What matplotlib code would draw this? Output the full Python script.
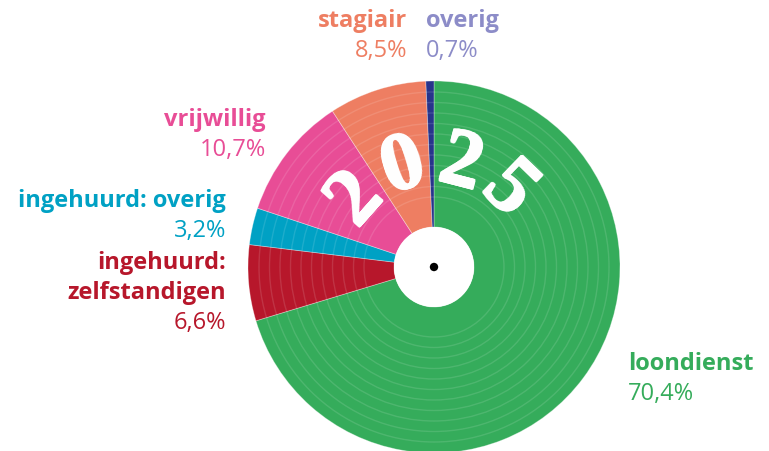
import matplotlib
matplotlib.use("Agg")
import matplotlib.pyplot as plt
from matplotlib.patches import Circle
from matplotlib.transforms import ScaledTranslation
import numpy as np

# ---- data ----
categories = ["loondienst", "ingehuurd:\nzelfstandigen", "ingehuurd: overig",
              "vrijwillig", "stagiair", "overig"]
values = [70.4, 6.6, 3.2, 10.7, 8.5, 0.7]
value_labels = ["70,4%", "6,6%", "3,2%", "10,7%", "8,5%", "0,7%"]
year_text = "2025"

# ---- styles ----
slice_colors = ["#35AC5B", "#B7172B", "#00A1C4", "#E84D96", "#EE7E62", "#27348B"]
label_colors = ["#35AC5B", "#B7172B", "#00A1C4", "#E84D96", "#EE7E62", "#8C8CC8"]

W, H = 769, 451
fig = plt.figure(figsize=(W / 100, H / 100), dpi=100)
ax = fig.add_axes([0, 0, 1, 1])

cx, cy = 434, H - 267
R = 186
r_hole = 40

ax.pie(values, colors=slice_colors, startangle=90, counterclock=False,
       radius=R, center=(cx, cy),
       wedgeprops=dict(width=R - r_hole, edgecolor=(1, 1, 1, 0.35), linewidth=0.6))

# record grooves
for rr in np.arange(70, 180, 10.5):
    ax.add_patch(Circle((cx, cy), rr, fill=False, edgecolor=(1, 1, 1, 0.12),
                        linewidth=1.0, zorder=3))

# centre hole and spindle
ax.add_patch(Circle((cx, cy), r_hole, facecolor="white", edgecolor="none", zorder=4))
ax.add_patch(Circle((cx, cy), 4.2, facecolor="black", edgecolor="none", zorder=5))

# year digits along arc (drawn with small offsets to make them heavier)
angles = [138.5, 107, 75.5, 46]
r_text = 104
offsets = [(0, 0)] + [(0.9 * np.cos(k), 0.9 * np.sin(k))
                      for k in np.linspace(0, 2 * np.pi, 8, endpoint=False)]
for ch, a in zip(year_text, angles):
    t = np.deg2rad(a)
    for dx, dy in offsets:
        tr = ax.transData + ScaledTranslation(dx / 100, dy / 100, fig.dpi_scale_trans)
        ax.text(cx + r_text * np.cos(t), cy + r_text * np.sin(t), ch,
                rotation=a - 90, rotation_mode="anchor", ha="center", va="center",
                fontsize=60, fontweight="bold", family="Liberation Serif",
                color="white", zorder=6, transform=tr)

# labels: (x, y of first line centre, ha)
layout = {
    0: (628, 364, "left"),
    1: (226, 263, "right"),
    2: (226, 201, "right"),
    3: (266, 120, "right"),
    4: (407, 21, "right"),
    5: (426, 21, "left"),
}
fs = 17
lh = 30
for i, cat in enumerate(categories):
    x, y, ha = layout[i]
    lines = cat.split("\n")
    for j, ln in enumerate(lines):
        ax.text(x, H - (y + j * lh), ln, ha=ha, va="center", fontsize=fs,
                fontweight="bold", family="Open Sans", color=label_colors[i])
    ax.text(x, H - (y + len(lines) * lh), value_labels[i], ha=ha, va="center",
            fontsize=fs, family="Open Sans", color=label_colors[i])

ax.set_xlim(0, W)
ax.set_ylim(0, H)
ax.set_aspect("equal")
ax.axis("off")
fig.savefig("out.png", dpi=100)
